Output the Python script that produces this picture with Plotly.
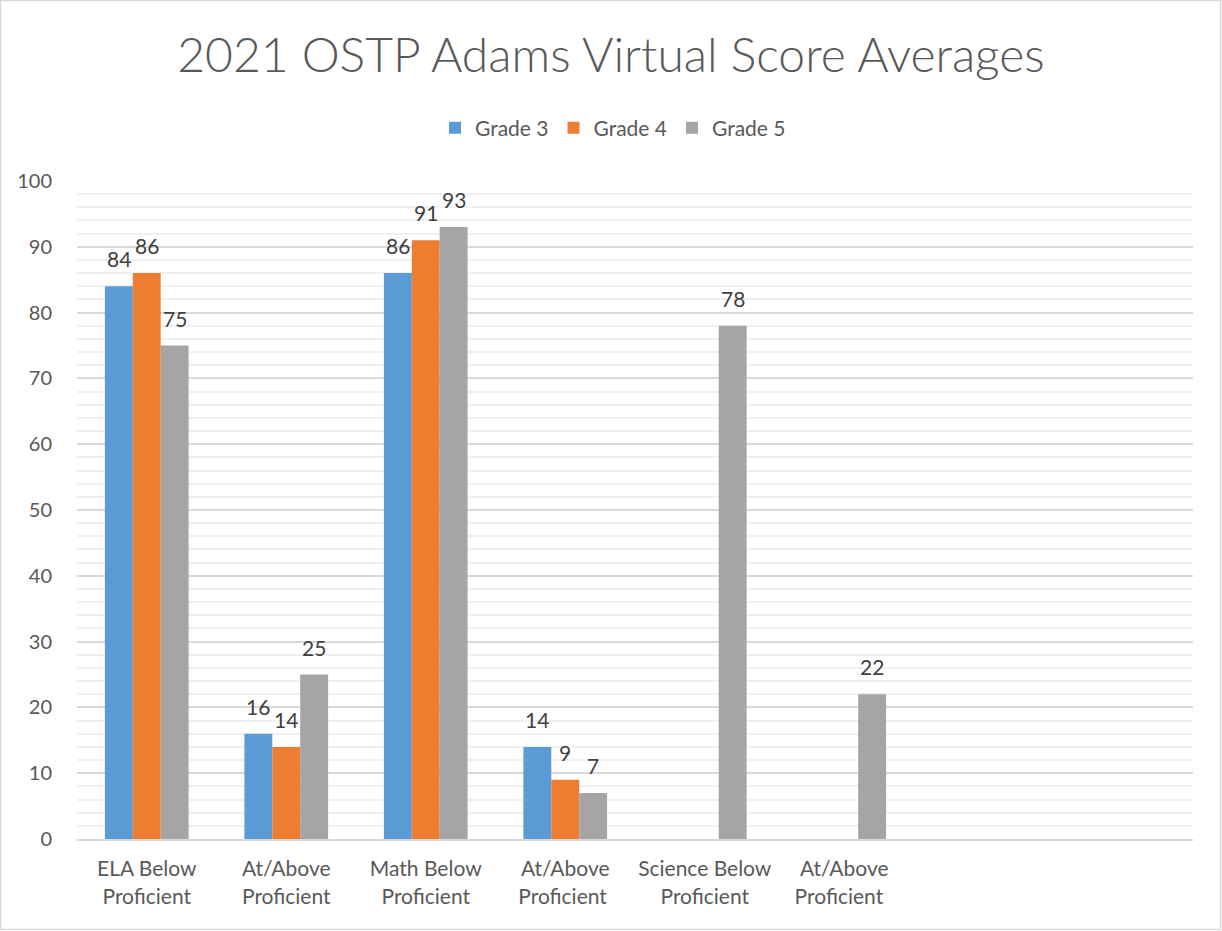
import plotly.graph_objects as go

categories = ["ELA Below<br>Proficient", "At/Above<br>Proficient", "Math Below<br>Proficient",
              "At/Above<br>Proficient ", "Science Below<br>Proficient", "At/Above<br>Proficient  "]
series_names = ["Grade 3", "Grade 4", "Grade 5"]
grade3 = [84, 16, 86, 14, None, None]
grade4 = [86, 14, 91, 9, None, None]
grade5 = [75, 25, 93, 7, 78, 22]
colors = ["#5B9BD5", "#ED7D31", "#A5A5A5"]

FONT = "Lato, 'Open Sans', sans-serif"
W, H = 1222, 931
L, R, T, B = 77, 29, 181, 92
pw, ph = W - L - R, H - T - B
n_slots = 8
bar_px = pw / n_slots * 0.6 / 3

fig = go.Figure()
for i, (name, vals, c) in enumerate(zip(series_names, [grade3, grade4, grade5], colors)):
    fig.add_trace(go.Bar(
        x=categories, y=vals, name=name, marker=dict(color=c, line=dict(width=0)),
    ))
    for cat, v in zip(categories, vals):
        if v is None:
            continue
        fig.add_annotation(x=cat, y=v, text=str(v), showarrow=False, xref="x", yref="y",
                           xanchor="center", yanchor="bottom", xshift=(i - 1) * bar_px, yshift=13,
                           font=dict(size=21, color="#404040", family=FONT))

fig.update_layout(
    width=W, height=H,
    margin=dict(l=L, r=R, t=T, b=B),
    paper_bgcolor="white", plot_bgcolor="white",
    barmode="group", bargap=0.4, bargroupgap=0,
    font=dict(family=FONT, color="#595959"),
    title=dict(text="2021 OSTP Adams Virtual Score Averages", x=0.5, xanchor="center",
               y=1 - 55 / H, yanchor="middle",
               font=dict(size=48, color="#595959", family=FONT, weight=300)),
    legend=dict(orientation="h", x=0.5 - 22 / pw, xanchor="center", y=(H - B - 128) / ph, yanchor="middle",
                font=dict(size=21, color="#595959", family=FONT), traceorder="normal",
                itemwidth=30),
    showlegend=True,
)
fig.update_xaxes(type="category", categoryorder="array", categoryarray=categories,
                 range=[-0.5, 7.5], showgrid=False, showline=True, linecolor="#D9D9D9", linewidth=2,
                 ticks="", ticklabelstandoff=10,
                 tickfont=dict(size=21, color="#595959", family=FONT), fixedrange=True)
fig.update_yaxes(range=[0, 100], dtick=10, showgrid=True, gridcolor="#D9D9D9", gridwidth=1.5,
                 minor=dict(dtick=2, showgrid=True, gridcolor="#F0F0F0", gridwidth=1.5),
                 zeroline=False, showline=False, ticks="", ticklabelstandoff=24,
                 tickfont=dict(size=20, color="#595959", family=FONT))

fig.add_shape(type="rect", xref="paper", yref="paper",
              x0=-(L - 0.5) / pw, x1=1 + (R - 1.5) / pw, y0=-(B - 1.5) / ph, y1=1 + (T - 0.5) / ph,
              line=dict(color="#D9D9D9", width=1.5), fillcolor="rgba(0,0,0,0)", layer="below")

fig.write_html("out.html", config={"displayModeBar": False},
               post_script="document.body.style.margin='0';document.body.style.padding='0';")
